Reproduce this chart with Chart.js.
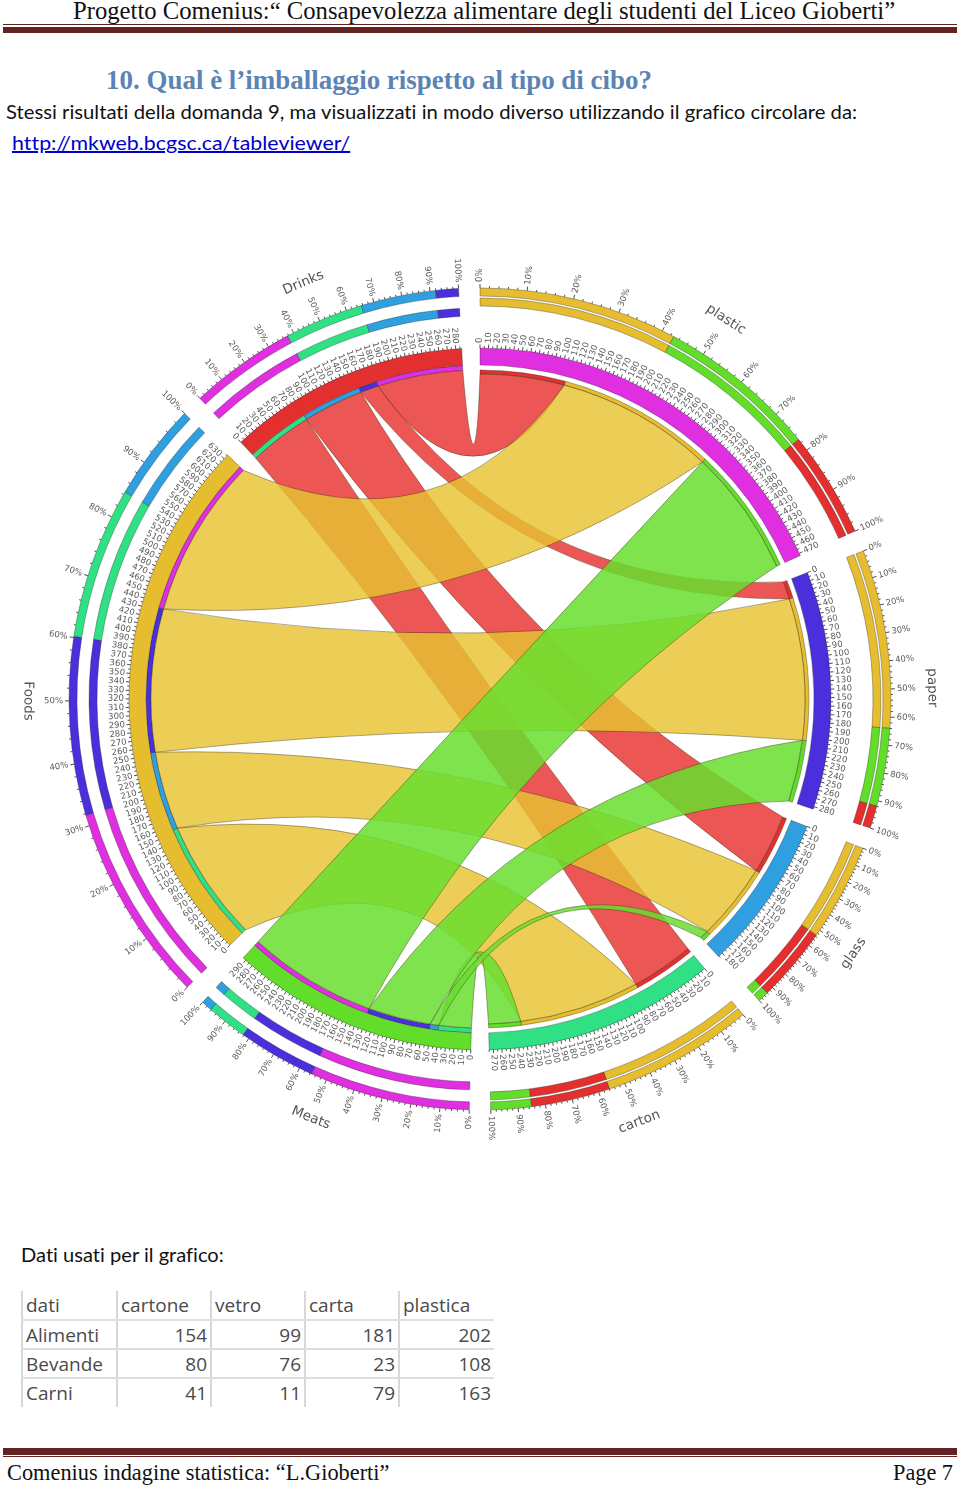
<!DOCTYPE html>
<html>
<head>
<meta charset="utf-8">
<title>Progetto Comenius</title>
<script src="https://cdn.jsdelivr.net/npm/chart.js@4/dist/chart.umd.min.js"></script>
<style>
    html, body { margin: 0; padding: 0; background: #fff; }
    body { position: relative; width: 960px; height: 1488px; overflow: hidden; }
    .t { position: absolute; white-space: nowrap; line-height: 30px; height: 30px; transform-origin: left center; color: #111; font-variant-ligatures: none; }
    .serif { font-family: "Liberation Serif", serif; }
    .sans { font-family: Lato, sans-serif; }
    .rule { position: absolute; left: 3px; width: 954px; background: #622423; }
    #chartBox { position: absolute; left: 0; top: 219px; width: 960px; height: 960px; }
    table { position: absolute; left: 21px; top: 1291px; border-collapse: collapse; table-layout: fixed; width: 472px;
            font-family: "Open Sans", sans-serif; font-size: 19px; color: #4a4a4a; }
    td { height: 29px; padding: 0 3px; border-left: 2px solid #d8d8d8; border-bottom: 2px solid #dedede; box-sizing: border-box; }
    tr:last-child td { border-bottom: none; }
    td.num { text-align: right; }
</style>
</head>
<body>
<div class="t serif" data-w="822" style="left:73px; top:-4px; font-size:25px;">Progetto Comenius:“ Consapevolezza alimentare degli studenti del Liceo Gioberti”</div>
<div class="rule" style="top:24px; height:1px;"></div>
<div class="rule" style="top:27px; height:6px;"></div>
<div class="t serif" data-w="546" style="left:106px; top:65px; font-size:28px; font-weight:bold; color:#5b84b4;">10. Qual è l’imballaggio rispetto al tipo di cibo?</div>
<div class="t sans" data-w="851" style="left:6px; top:96px; font-size:20px;">Stessi risultati della domanda 9, ma visualizzati in modo diverso utilizzando il grafico circolare da:</div>
<div class="t sans" data-w="338" style="left:12px; top:127px; font-size:20px; color:#0000cc; text-decoration:underline;">http://mkweb.bcgsc.ca/tableviewer/</div>
<div id="chartBox"><canvas id="chordChart" width="960" height="960"></canvas></div>
<div class="t sans" data-w="203" style="left:21px; top:1239px; font-size:20px;">Dati usati per il grafico:</div>
<table id="dataTable"></table>
<div class="rule" style="top:1448px; height:7px;"></div>
<div class="rule" style="top:1456px; height:1px;"></div>
<div class="t serif" data-w="382" style="left:7px; top:1458px; font-size:23px;">Comenius indagine statistica: “L.Gioberti”</div>
<div class="t serif" data-w="60" style="left:893px; top:1458px; font-size:23px;">Page 7</div>

<script>
// table values
const columns = ["cartone", "vetro", "carta", "plastica"];
const rows = ["Alimenti", "Bevande", "Carni"];
const alimenti = [154, 99, 181, 202];
const bevande = [80, 76, 23, 108];
const carni = [41, 11, 79, 163];

// labels round the circle, clockwise from the top
const colLabels = ["carton", "glass", "paper", "plastic"];
const rowLabels = ["Foods", "Drinks", "Meats"];

const colColors = ["#2fe084", "#2f9fe0", "#4a2fdc", "#e02fe0"];
const rowColors = ["#e6bd2e", "#e3302f", "#62dd2a"];
const ribbonColors = ["rgba(232,195,50,0.82)", "rgba(232,50,48,0.82)", "rgba(104,222,46,0.85)"];

const rowValues = [alimenti, bevande, carni];
const colOrderOnCircle = [3, 2, 1, 0];
const rowOrderOnCircle = [2, 0, 1];
const gapUnits = 21.5;
const clear = "rgba(0,0,0,0)";

// segments in drawing order, plastic first
const segments = [];
colOrderOnCircle.forEach(c => {
    const vals = rows.map((_, r) => rowValues[r][c]);
    segments.push({
        kind: "col", index: c, name: colLabels[c], vals: vals,
        total: vals.reduce((a, b) => a + b, 0),
        inner: [1, 0, 2], // Drinks, Foods, Meats
        colors: rowColors
    });
});
rowOrderOnCircle.forEach(r => {
    const vals = rowValues[r];
    segments.push({
        kind: "row", index: r, name: rowLabels[r], vals: vals,
        total: vals.reduce((a, b) => a + b, 0),
        inner: [0, 1, 2, 3], // carton, glass, paper, plastic
        colors: colColors
    });
});

function sortedDesc(seg) {
    return seg.vals.map((v, i) => i).sort((a, b) => seg.vals[b] - seg.vals[a]);
}

// one doughnut ring: fn gives the slices of a segment, or null when it stays empty
function ring(weight, fn) {
    const data = [], colors = [], widths = [];
    segments.forEach(seg => {
        const parts = fn ? fn(seg) : null;
        if (parts) {
            parts.forEach(i => {
                data.push(seg.vals[i]);
                colors.push(seg.colors[i]);
                widths.push(0.6);
            });
        } else {
            data.push(seg.total);
            colors.push(clear);
            widths.push(0);
        }
        data.push(gapUnits);
        colors.push(clear);
        widths.push(0);
    });
    return {
        data: data, backgroundColor: colors, weight: weight,
        borderWidth: widths, borderColor: "rgba(30,30,30,0.55)", hoverOffset: 0
    };
}

const outerBars = ring(8, sortedDesc);                                        // 403-411
const space1 = ring(2);
const colBars = ring(8, s => s.kind === "col" ? sortedDesc(s) : null);        // 393-401
const space2 = ring(2);
const rowBars = ring(8, s => s.kind === "row" ? sortedDesc(s) : null);        // 383-391
const space3 = ring(32);
const mainRing = ring(17, null);                                              // 334-351
const rowInner = ring(5, s => s.kind === "row" ? s.inner : null);             // 329-334
const colInner = ring(4, s => s.kind === "col" ? s.inner : null);             // 325-329

// main ring is one solid slice per segment
let k = 0;
segments.forEach(seg => {
    mainRing.backgroundColor[k] = seg.kind === "col" ? colColors[seg.index] : rowColors[seg.index];
    mainRing.borderWidth[k] = 0.6;
    k += 2;
});

const datasets = [outerBars, space1, colBars, space2, rowBars, space3, mainRing, rowInner, colInner];
const MAIN = datasets.indexOf(mainRing), ROWIN = datasets.indexOf(rowInner), COLIN = datasets.indexOf(colInner);

// finds the slice element of a segment's part in an inner ring
function innerElement(meta, segIndex, partIndex) {
    let n = 0;
    for (let s = 0; s < segIndex; s++) {
        n += (segments[s].kind === meta.kindWanted ? segments[s].inner.length : 1) + 1;
    }
    return meta.data[n + partIndex];
}

function polar(cx, cy, r, a) {
    return [cx + r * Math.cos(a), cy + r * Math.sin(a)];
}

const ribbonPlugin = {
    id: "ribbons",
    afterDatasetsDraw(chart) {
        const ctx = chart.ctx;
        const colMeta = chart.getDatasetMeta(COLIN);
        const rowMeta = chart.getDatasetMeta(ROWIN);
        colMeta.kindWanted = "col";
        rowMeta.kindWanted = "row";
        const cx = colMeta.data[0].x, cy = colMeta.data[0].y;

        // Drinks under Foods under Meats
        [1, 0, 2].forEach(r => {
            const rowSeg = segments.findIndex(s => s.kind === "row" && s.index === r);
            columns.forEach((_, c) => {
                const colSeg = segments.findIndex(s => s.kind === "col" && s.index === c);
                const a = innerElement(colMeta, colSeg, segments[colSeg].inner.indexOf(r));
                const b = innerElement(rowMeta, rowSeg, segments[rowSeg].inner.indexOf(c));
                const ra = a.innerRadius, rb = b.innerRadius;

                function curve(fromA, fromR, toA, toR) {
                    const p = polar(cx, cy, fromR, fromA), q = polar(cx, cy, toR, toA);
                    let span = Math.abs(toA - fromA) % (2 * Math.PI);
                    if (span > Math.PI) span = 2 * Math.PI - span;
                    const pull = 0.32 + 0.24 * Math.cos(span / 2);
                    ctx.quadraticCurveTo(
                        cx + pull * ((p[0] + q[0]) / 2 - cx),
                        cy + pull * ((p[1] + q[1]) / 2 - cy),
                        q[0], q[1]);
                }

                ctx.beginPath();
                ctx.arc(cx, cy, ra, a.startAngle, a.endAngle);
                curve(a.endAngle, ra, b.startAngle, rb);
                ctx.arc(cx, cy, rb, b.startAngle, b.endAngle);
                curve(b.endAngle, rb, a.startAngle, ra);
                ctx.closePath();
                ctx.fillStyle = ribbonColors[r];
                ctx.fill();
                ctx.strokeStyle = "rgba(60,50,20,0.6)";
                ctx.lineWidth = 0.7;
                ctx.stroke();
            });
        });

        const main = chart.getDatasetMeta(MAIN);
        const outer = main.data[0].outerRadius;
        const barOuter = chart.getDatasetMeta(0).data[0].outerRadius;

        function tick(a, r0, r1) {
            const p = polar(cx, cy, r0, a), q = polar(cx, cy, r1, a);
            ctx.beginPath();
            ctx.moveTo(p[0], p[1]);
            ctx.lineTo(q[0], q[1]);
            ctx.stroke();
        }

        // radial text: reads outward on the right, inward on the left
        function radialText(text, a, r) {
            const p = polar(cx, cy, r, a);
            const right = Math.cos(a) >= -1e-6 ;
            ctx.save();
            ctx.translate(p[0], p[1]);
            ctx.rotate(right ? a : a + Math.PI);
            ctx.textAlign = right ? "left" : "right";
            ctx.textBaseline = "middle";
            ctx.fillText(text, 0, 0);
            ctx.restore();
        }

        ctx.strokeStyle = "#222";
        ctx.lineWidth = 0.8;
        ctx.fillStyle = "#5a5a5a";
        ctx.font = "8.5px 'DejaVu Sans'";

        segments.forEach((seg, s) => {
            const el = main.data[s * 2];
            const perUnit = (el.endAngle - el.startAngle) / seg.total;

            for (let v = 0; v <= seg.total; v += 5) {
                const a = el.startAngle + v * perUnit;
                if (v % 10 === 0) {
                    tick(a, outer, outer + 3.5);
                    radialText(String(v), a, outer + 5);
                } else {
                    tick(a, outer, outer + 2);
                }
            }
            for (let p = 0; p <= 100; p += 2) {
                const a = el.startAngle + (el.endAngle - el.startAngle) * p / 100;
                if (p % 10 === 0) {
                    tick(a, barOuter, barOuter + 4);
                    radialText(p + "%", a, barOuter + 6);
                } else {
                    tick(a, barOuter, barOuter + 2);
                }
            }
        });

        // segment names, along the circle
        ctx.font = "13.5px 'DejaVu Sans'";
        ctx.fillStyle = "#555";
        segments.forEach((seg, s) => {
            const el = main.data[s * 2];
            const a = (el.startAngle + el.endAngle) / 2;
            const p = polar(cx, cy, 452, a);
            let fromTop = a + Math.PI / 2;
            const flip = fromTop > Math.PI / 2 && fromTop <= 3 * Math.PI / 2 + 1e-3;
            ctx.save();
            ctx.translate(p[0], p[1]);
            ctx.rotate(flip ? fromTop - Math.PI : fromTop);
            ctx.textAlign = "center";
            ctx.textBaseline = "middle";
            ctx.fillText(seg.name, 0, 0);
            ctx.restore();
        });
    }
};

new Chart(document.getElementById("chordChart").getContext("2d"), {
    type: "doughnut",
    data: { datasets: datasets },
    options: {
        responsive: false,
        animation: false,
        rotation: 0,
        radius: 411,
        cutout: (325 / 411 * 100) + "%",
        plugins: { legend: { display: false }, tooltip: { enabled: false } },
        events: []
    },
    plugins: [ribbonPlugin]
});

// data table under the chart
let html = "<colgroup><col style='width:95px'><col style='width:94px'><col style='width:94px'><col style='width:94px'><col style='width:95px'></colgroup>";
html += "<tr><td>dati</td>" + columns.map(c => "<td>" + c + "</td>").join("") + "</tr>";
rows.forEach((name, r) => {
    html += "<tr><td>" + name + "</td>" + rowValues[r].map(v => "<td class='num'>" + v + "</td>").join("") + "</tr>";
});
document.getElementById("dataTable").innerHTML = html;

// squeeze the page text to the measured widths
document.querySelectorAll(".t").forEach(el => {
    const want = Number(el.dataset.w);
    el.style.transform = "scaleX(" + (want / el.offsetWidth) + ")";
});
</script>
</body>
</html>
